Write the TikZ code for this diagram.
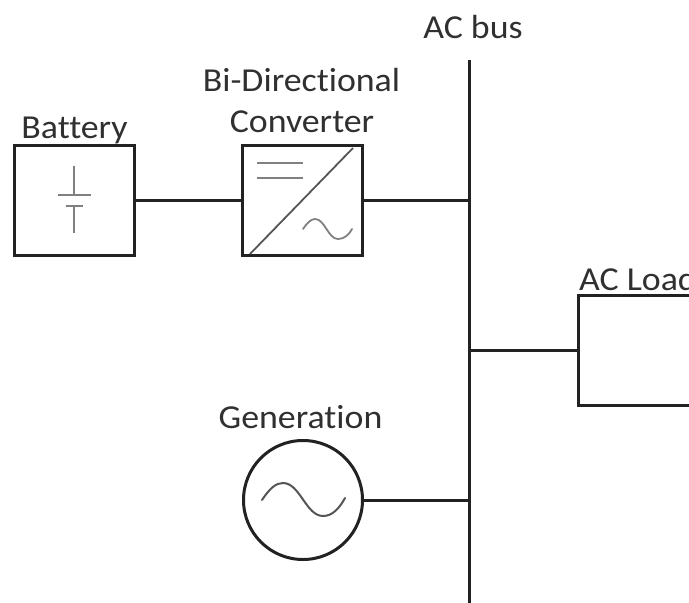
\documentclass[tikz,border=0pt]{standalone}
\usepackage{fontspec}
\setmainfont[Ligatures=NoCommon,FakeStretch=1.07]{Carlito}
\definecolor{ink}{HTML}{222222}
\definecolor{txt}{HTML}{303030}
\definecolor{sym}{HTML}{808080}
\definecolor{sym2}{HTML}{555555}
\tikzset{
  box/.style={draw=ink,line width=3pt,minimum width=120pt,minimum height=110pt,inner sep=0pt,rectangle,fill=white},
  gen/.style={draw=ink,line width=3pt,circle,minimum size=119pt,inner sep=0pt,fill=white},
  wire/.style={draw=ink,line width=3pt},
  glyph/.style={draw=sym,line width=2pt},
  wave/.style={draw=sym2,line width=1.8pt,line cap=round},
  label/.style={text=txt,font=\fontsize{33.5}{37}\selectfont,inner sep=0pt,anchor=base}
}
\begin{document}
\begin{tikzpicture}[x=1pt,y=-1pt]
\useasboundingbox (0,0) rectangle (689,603);
\clip (0,0) rectangle (689,603);
\fill[white] (0,0) rectangle (689,603);
% nodes
\node[box] (bat) at (74.5,200.5) {};
\node[box] (conv) at (302,200.5) {};
\node[box] (load) at (638.5,350) {};
\node[gen] (gene) at (303,500) {};
% bus
\coordinate (busT) at (469,60);
\coordinate (busB) at (469,603);
\coordinate (j1) at (conv.east -| busT);
\coordinate (j2) at (load.west -| busT);
\coordinate (j3) at (gene.east -| busT);
\draw[wire] (busT) -- (busB);
% connectors
\draw[wire] (bat.east) -- (conv.west);
\draw[wire] (conv.east) -- (j1);
\draw[wire] (j2) -- (load.west);
\draw[wire] (gene.east) -- (j3);
% battery symbol
\draw[glyph] (74,166) -- (74,194);
\draw[glyph] (57.5,194.5) -- (90.5,194.5);
\draw[glyph] (65.5,205.5) -- (82.5,205.5);
\draw[glyph] (74,205.5) -- (74,232.5);
% converter symbol
\draw[glyph,draw=sym2,line width=1.8pt] (250,254) -- (353,148);
\draw[glyph] (257,163) -- (303,163);
\draw[glyph] (257,177.5) -- (303,177.5);
\draw[wave,draw=sym] (303,229) .. controls (307,223) and (311,219) .. (315,219) .. controls (325,219) and (328,239) .. (338,239) .. controls (344,239) and (349,235) .. (352,229);
% generator symbol
\draw[wave,line width=2pt] (262,500) .. controls (270,488) and (276,483) .. (283,483) .. controls (300,483) and (306,516) .. (323,516) .. controls (332,516) and (339,509) .. (345,498);
% labels
\node[label] (lbus) at (473,38) {AC bus};
\node[label] (lbd) at (301.5,91) {Bi-Directional};
\node[label] (lcv) at (302,132) {Converter};
\node[label] (lbat) at (74.5,138) {Battery};
\node[label,anchor=base west] (lload) at (579,290) {AC Load};
\node[label] (lgen) at (300.5,428) {Generation};
\end{tikzpicture}
\end{document}
